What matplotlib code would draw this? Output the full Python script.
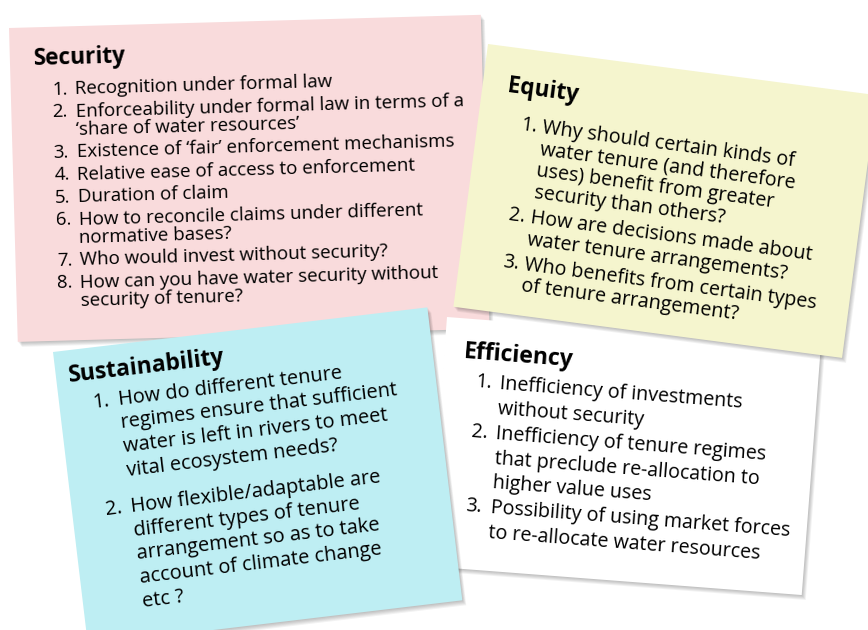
import matplotlib
matplotlib.use('Agg')  # no display
import matplotlib.pyplot as plt
from matplotlib.patches import Rectangle
from matplotlib.transforms import Affine2D

plt.rcParams['font.family'] = ['Open Sans', 'DejaVu Sans']

titles = ['Security', 'Efficiency', 'Equity', 'Sustainability']

security_items = [
    ['Recognition under formal law'],
    ['Enforceability under formal law in terms of a', '\u2018share of water resources\u2019'],
    ['Existence of \u2018fair\u2019 enforcement mechanisms'],
    ['Relative ease of access to enforcement'],
    ['Duration of claim'],
    ['How to reconcile claims under different', 'normative bases?'],
    ['Who would invest without security?'],
    ['How can you have water security without', 'security of tenure?'],
]
efficiency_items = [
    ['Inefficiency of investments', 'without security'],
    ['Inefficiency of tenure regimes', 'that preclude re-allocation to', 'higher value uses'],
    ['Possibility of using market forces', 'to re-allocate water resources'],
]
equity_items = [
    ['Why should certain kinds of', 'water tenure (and therefore', 'uses) benefit from greater',
     'security than others?'],
    ['How are decisions made about', 'water tenure arrangements?'],
    ['Who benefits from certain types', 'of tenure arrangement?'],
]
sustainability_items = [
    ['How do different tenure', 'regimes ensure that sufficient', 'water is left in rivers to meet',
     'vital ecosystem needs?'],
    ['How flexible/adaptable are', 'different types of tenure', 'arrangement so as to take',
     'account of climate change', 'etc ?'],
]
items = [security_items, efficiency_items, equity_items, sustainability_items]

# card layout in pixels: top-left corner, size, angle (clockwise, degrees)
card_xy = [(9, 28), (447, 317), (488, 44), (53, 352)]
card_wh = [(472, 314), (375, 250), (392, 265), (377, 295)]
card_angle = [-1.6, 4.4, 7.5, -6.8]
card_color = ['#F9DBDC', '#FFFFFF', '#F5F5CE', '#BEEEF3']
# text placement inside each card (local pixels)
title_pos = [(24, 38), (19, 40), (25, 45), (13, 31.5)]
num_u = [41, 33, 43, 33]
text_u = [64, 58, 65, 59]
first_v = [68, 67.5, 81, 60]
line_step = [18, 25, 22, 24]
item_step = [22.5, 25, 25, 36]
body_size = [13.5, 14.1, 14.2, 14.4]
title_size = [16.3, 16.6, 16.3, 16.5]

fig = plt.figure(figsize=(8.68, 6.30), dpi=100)
ax = fig.add_axes([0, 0, 1, 1])
ax.set_xlim(0, 868)
ax.set_ylim(630, 0)
ax.set_axis_off()

for i in range(len(titles)):
    x0, y0 = card_xy[i]
    w, h = card_wh[i]
    a = card_angle[i]
    z = 2 * i + 1
    # soft drop shadow
    for k in range(1, 6):
        st = Affine2D().rotate_deg(a).translate(x0 + 0.8 * k, y0 + 1.0 * k) + ax.transData
        ax.add_patch(Rectangle((0, 0), w, h, facecolor='#000000', edgecolor='none',
                               alpha=0.05, transform=st, zorder=z))
    tr = Affine2D().rotate_deg(a).translate(x0, y0) + ax.transData
    ax.add_patch(Rectangle((0, 0), w, h, facecolor=card_color[i], edgecolor='none',
                           transform=tr, zorder=z + 0.5))
    tu, tv = title_pos[i]
    ax.text(tu, tv, titles[i], transform=tr, transform_rotates_text=True,
            rotation_mode='anchor', ha='left', va='baseline', fontsize=title_size[i],
            fontweight='bold', color='black', zorder=z + 1)
    v = first_v[i]
    for n, lines in enumerate(items[i]):
        ax.text(num_u[i], v, '%d.' % (n + 1), transform=tr, transform_rotates_text=True,
                rotation_mode='anchor', ha='left', va='baseline', fontsize=body_size[i],
                color='black', zorder=z + 1)
        for j, line in enumerate(lines):
            ax.text(text_u[i], v, line, transform=tr, transform_rotates_text=True,
                    rotation_mode='anchor', ha='left', va='baseline', fontsize=body_size[i],
                    color='black', zorder=z + 1)
            if j < len(lines) - 1:
                v += line_step[i]
        v += item_step[i]

fig.savefig('out.png', dpi=100)
